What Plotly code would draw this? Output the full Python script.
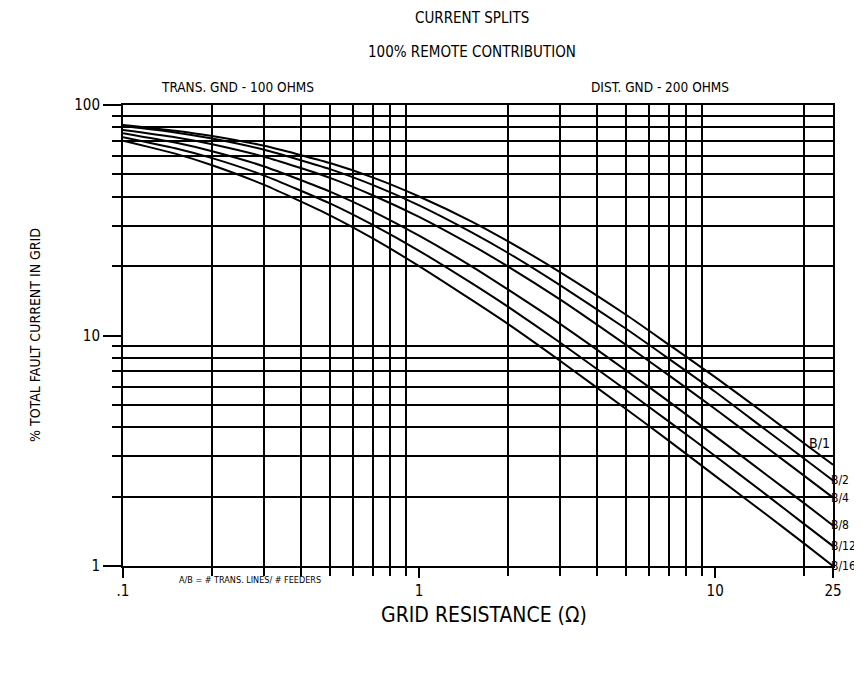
import math
import plotly.graph_objects as go

# Grid resistance (ohms)
resistance = [0.1, 0.15, 0.2, 0.3, 0.5, 0.7, 1, 1.5, 2, 3, 5, 7, 10, 15, 20, 25]

# % total fault current in grid, per A/B ratio
b_1 = [82, 77.4, 73.4, 66.5, 56, 48.4, 40.1, 31.3, 25.6, 18.8, 12.3, 9.1, 6.6, 4.5, 3.4, 2.75]
b_2 = [81, 76, 71.5, 63.9, 52.7, 44.9, 36.7, 28.1, 22.8, 16.5, 10.7, 7.9, 5.7, 3.85, 2.92, 2.35]
b_4 = [78, 72.5, 67.6, 59.6, 48.3, 40.5, 32.7, 24.7, 19.9, 14.3, 9.1, 6.7, 4.8, 3.25, 2.46, 1.98]
b_8 = [75.5, 68.7, 63, 54.1, 42.1, 34.5, 27.1, 20, 15.8, 11.2, 7.05, 5.15, 3.66, 2.47, 1.87, 1.5]
b_12 = [72.5, 64.9, 58.8, 49.4, 37.4, 30.1, 23.3, 16.9, 13.3, 9.3, 5.8, 4.22, 3.0, 2.02, 1.52, 1.22]
b_16 = [70, 61.5, 54.8, 45, 33.2, 26.3, 20, 14.3, 11.2, 7.75, 4.8, 3.48, 2.46, 1.66, 1.25, 1.0]

series_names = ["B/1", "B/2", "B/4", "B/8", "B/12", "B/16"]
series_values = [b_1, b_2, b_4, b_8, b_12, b_16]

x_major_vals = [0.1, 1, 10, 25]
x_major_text = [".1", "1", "10", "25"]
x_minor_vals = [0.2, 0.3, 0.4, 0.5, 0.6, 0.7, 0.8, 0.9, 2, 3, 4, 5, 6, 7, 8, 9, 20]
y_major_vals = [1, 10, 100]
y_major_text = ["1", "10", "100"]
y_minor_vals = [2, 3, 4, 5, 6, 7, 8, 9, 20, 30, 40, 50, 60, 70, 80, 90]

FONT = "DejaVu Sans Condensed, Liberation Sans Narrow, Arial Narrow, sans-serif"

fig = go.Figure()
for name, vals in zip(series_names, series_values):
    fig.add_trace(go.Scatter(
        x=resistance, y=vals, mode="lines", name=name,
        line=dict(color="black", width=2, shape="spline", smoothing=0.6),
        showlegend=False, hoverinfo="skip",
    ))

# page body adds an 8px margin, keep the figure inside the window
fig.update_layout(
    width=854, height=660,
    margin=dict(l=115, r=29, t=97, b=102),
    paper_bgcolor="white", plot_bgcolor="white",
    font=dict(family=FONT, color="black", size=14),
    showlegend=False,
)

fig.update_xaxes(
    type="log", range=[math.log10(0.1), math.log10(25)], automargin=False,
    tickmode="array", tickvals=x_major_vals, ticktext=x_major_text,
    showgrid=False, ticks="outside", ticklen=10, tickwidth=2, tickcolor="black",
    showline=True, linecolor="black", linewidth=2, mirror=True,
    tickfont=dict(family=FONT, size=15, color="black"),
    minor=dict(tickmode="array", tickvals=x_minor_vals, showgrid=True,
               gridcolor="black", gridwidth=2, ticks="outside", ticklen=8,
               tickwidth=2, tickcolor="black"),
    zeroline=False,
)
fig.update_yaxes(
    type="log", range=[0, 2], automargin=False,
    tickmode="array", tickvals=y_major_vals, ticktext=y_major_text,
    showgrid=False, ticks="outside", ticklen=18, tickwidth=2, tickcolor="black",
    showline=True, linecolor="black", linewidth=2, mirror=True,
    tickfont=dict(family=FONT, size=15, color="black"),
    minor=dict(tickmode="array", tickvals=y_minor_vals, showgrid=True,
               gridcolor="black", gridwidth=2, ticks="outside", ticklen=9,
               tickwidth=2, tickcolor="black"),
    zeroline=False,
)

def ann(text, x, y, size=15, **kw):
    fig.add_annotation(text=text, x=x, y=y, xref="paper", yref="paper",
                       xanchor="center", yanchor="middle",
                       showarrow=False, font=dict(family=FONT, size=size, color="black"), **kw)

ann("CURRENT SPLITS", 0.4915, 1.189, size=15)
ann("100% REMOTE CONTRIBUTION", 0.491, 1.115, size=15)
ann("TRANS. GND - 100 OHMS", 0.161, 1.039, size=13.5)
ann("DIST. GND - 200 OHMS", 0.756, 1.039, size=13.5)
ann("GRID RESISTANCE (\u03a9)", 0.509, -0.106, size=21)
ann("A/B = # TRANS. LINES/ # FEEDERS", 0.179, -0.030, size=9)
ann("% TOTAL FAULT CURRENT IN GRID", -0.124, 0.501, size=14, textangle=-90)

# Curve labels at curve ends
for name, vals in zip(series_names, series_values):
    yv = math.log10(vals[-1])
    if name == "B/1":
        fig.add_annotation(text=name, x=1, y=yv, xref="paper", yref="y",
                           xanchor="right", yanchor="middle", yshift=22, xshift=-1,
                           showarrow=False, font=dict(family=FONT, size=14, color="black"))
    else:
        fig.add_annotation(text=name, x=1, y=yv, xref="paper", yref="y",
                           xanchor="left", yanchor="middle", xshift=-4,
                           showarrow=False, font=dict(family=FONT, size=12, color="black"))

fig.write_html("out.html")
